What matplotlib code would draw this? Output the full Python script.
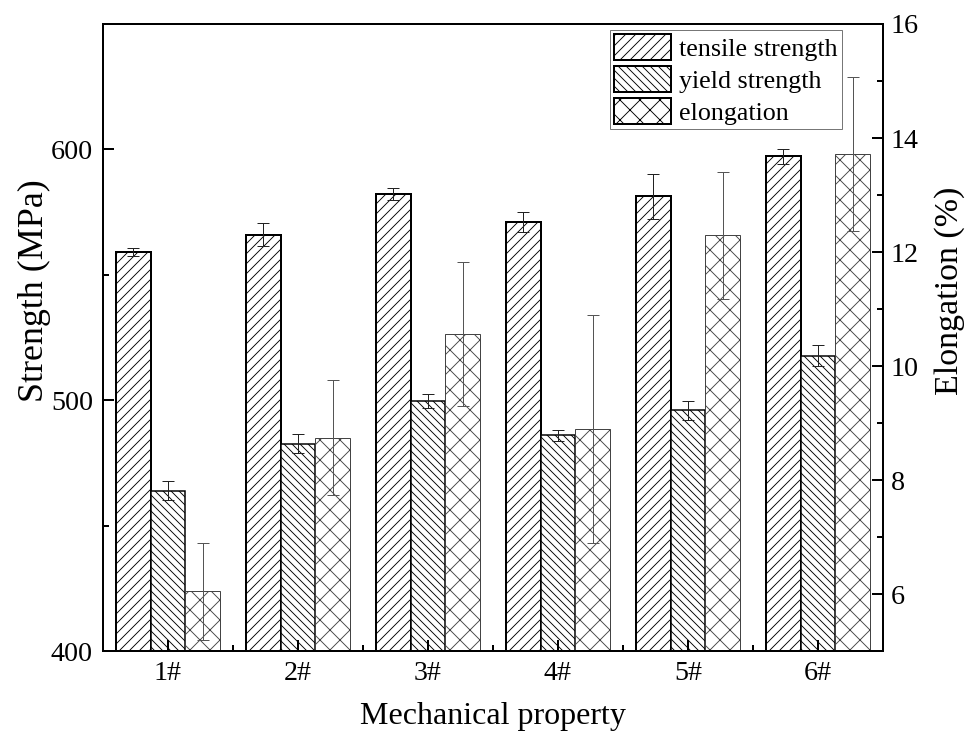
import numpy as np
import matplotlib
matplotlib.use('Agg')
import matplotlib.pyplot as plt
from matplotlib.ticker import MultipleLocator

DPI = 120


def px(v):
    # pixel size -> points at this dpi
    return v * 72.0 / DPI


plt.rcParams['font.family'] = ['Liberation Serif', 'DejaVu Serif']
plt.rcParams['hatch.linewidth'] = px(0.9)
plt.rcParams['hatch.color'] = 'black'

# data
samples = ['1#', '2#', '3#', '4#', '5#', '6#']
tensile = [559.1, 565.9, 582.2, 571.2, 581.3, 597.3]
tensile_err = [1.7, 4.6, 2.3, 4.0, 9.0, 3.0]
yield_s = [464.0, 482.7, 499.6, 486.0, 495.9, 517.8]
yield_err = [3.9, 3.8, 2.7, 2.3, 3.8, 4.2]
elong = [6.05, 8.74, 10.56, 8.90, 12.29, 13.72]
elong_err = [0.85, 1.01, 1.27, 2.0, 1.12, 1.35]

x = np.arange(len(samples))
w = 0.267

fig = plt.figure(figsize=(966 / DPI, 743 / DPI), dpi=DPI)
ax = fig.add_axes([0.1066, 0.1238, 0.8074, 0.8439])
ax2 = ax.twinx()

ekw = dict(ecolor='#222222', elinewidth=px(1), capthick=px(1))
b1 = ax.bar(x - w, tensile, w, color='white', edgecolor='black', linewidth=px(2),
            hatch='////', yerr=tensile_err, capsize=px(6), error_kw=ekw)
b2 = ax.bar(x, yield_s, w, color='white', edgecolor='black', linewidth=px(1.5),
            hatch='\\\\\\\\\\', yerr=yield_err, capsize=px(6), error_kw=ekw)
b3 = ax2.bar(x + w, elong, w, color='white', edgecolor='#444444', linewidth=px(1),
             hatch='xx', yerr=elong_err, capsize=px(6),
             error_kw=dict(ecolor='#555555', elinewidth=px(1), capthick=px(1)))

ax.set_xlim(-0.5, 5.5)
ax.set_ylim(400, 650)
ax2.set_ylim(5, 16)

ax.set_xticks(x)
ax.set_xticklabels(samples)
ax.set_xticks(x[:-1] + 0.5, minor=True)
ax.yaxis.set_major_locator(MultipleLocator(100))
ax.yaxis.set_minor_locator(MultipleLocator(50))
ax2.yaxis.set_major_locator(MultipleLocator(2))
ax2.yaxis.set_minor_locator(MultipleLocator(1))

ax.tick_params(axis='both', which='major', direction='in', length=px(11), width=px(2),
               labelsize=px(28), pad=px(10))
ax.tick_params(axis='both', which='minor', direction='in', length=px(6), width=px(2))
ax.tick_params(axis='y', right=False)
ax.tick_params(axis='x', top=False, which='both')
ax2.tick_params(axis='y', which='major', direction='in', length=px(11), width=px(2),
                labelsize=px(28), pad=px(8))
ax2.tick_params(axis='y', which='minor', direction='in', length=px(6), width=px(2))

for a in (ax, ax2):
    for s in a.spines.values():
        s.set_linewidth(px(2))

ax.set_xlabel('Mechanical property', fontsize=px(32), labelpad=px(16))
ax.set_ylabel('Strength (MPa)', fontsize=px(36))
ax2.set_ylabel('Elongation (%)', fontsize=px(34), rotation=90)
ax.yaxis.set_label_coords(-0.066, 0.574)
ax2.yaxis.set_label_coords(1.066, 0.574)

leg = ax2.legend([b1, b2, b3], ['tensile strength', 'yield strength', 'elongation'],
                 loc='upper right', bbox_to_anchor=(0.947, 0.99), fontsize=px(26),
                 frameon=True, fancybox=False, edgecolor='#555555',
                 handlelength=2.2, handleheight=1.15, handletextpad=0.3,
                 labelspacing=0.2, borderpad=0.15, borderaxespad=0)
leg.get_frame().set_linewidth(px(1))
for p in leg.get_patches():
    p.set_edgecolor('black')
    p.set_linewidth(px(2))

fig.savefig('out.png', dpi=DPI)
